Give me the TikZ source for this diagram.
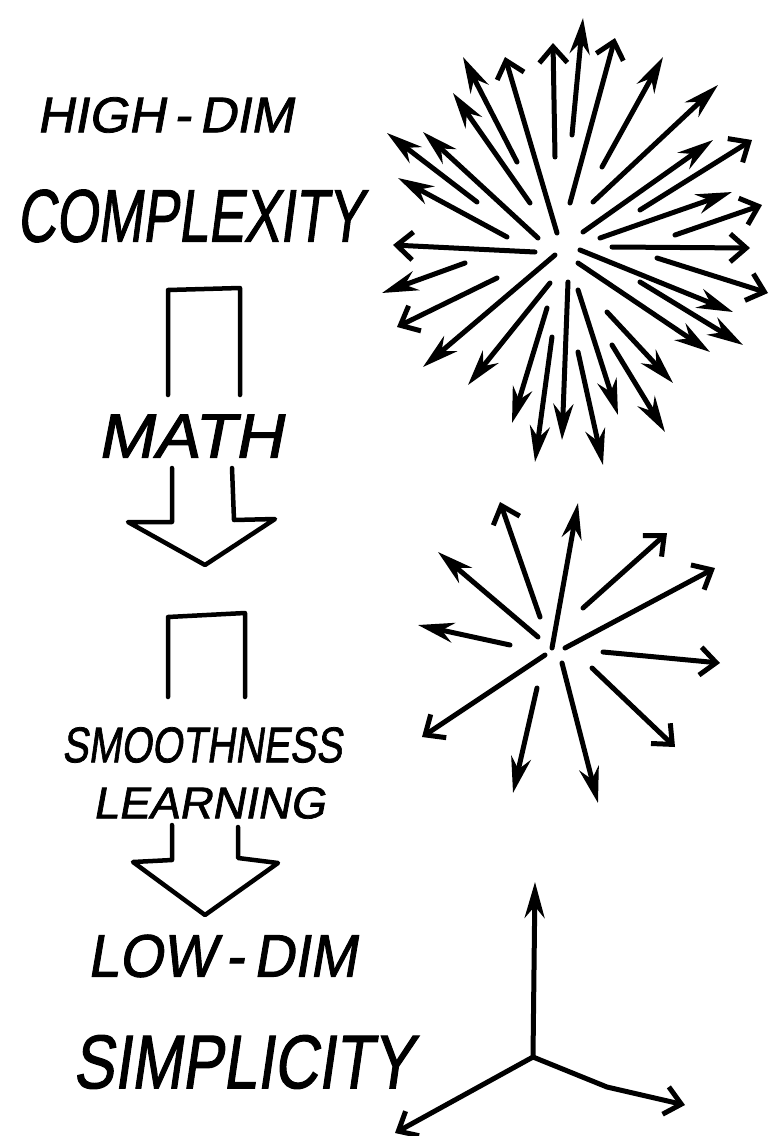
\documentclass[tikz,border=0pt]{standalone}
\usepackage{fontspec}
\usepackage{graphicx}
\usepackage{tikz}
\usetikzlibrary{arrows.meta}
\newfontfamily\handfont[FakeBold=1.6,FakeSlant=0.18]{Liberation Sans}
% lettering squeezed to the size of the hand-written words
\newcommand{\letters}[3]{\resizebox{#1}{#2}{\handfont #3}}

\begin{document}
\begin{tikzpicture}[x=1pt,y=-1pt,
    word/.style={inner sep=0pt},
    blk/.style={line width=4.5pt,line join=round,line cap=round},
    vec/.style={line width=5pt,line cap=round},
    vecf/.style={vec,-{Stealth[length=36pt,width=20pt]}},
    veco/.style={vec,-{Straight Barb[length=16pt,width=28pt]}}]
  \useasboundingbox (0,0) rectangle (770,1136);
  % words down the left side
  \node[word] (hidim)  at (165,115)  {\letters{256pt}{35pt}{HIGH\,-\,DIM}};
  \node[word] (cplx)   at (190,216)  {\letters{346pt}{52pt}{COMPLEXITY}};
  \node[word] (math)   at (190,436)  {\letters{185pt}{43pt}{MATH}};
  \node[word] (smooth) at (202,745)  {\letters{280pt}{35pt}{SMOOTHNESS}};
  \node[word] (learn)  at (209,803)  {\letters{232pt}{31pt}{LEARNING}};
  \node[word] (lowdim) at (222,956)  {\letters{269pt}{42pt}{LOW\,-\,DIM}};
  \node[word] (simpl)  at (243,1062) {\letters{340pt}{53pt}{SIMPLICITY}};
  % block arrows, cut by the words
  \draw[blk] (168,395) -- (168,290) -- (240,288) -- (240,395);
  \draw[blk] (172,468) -- (172,522) -- (128,522) -- (205,565)
    -- (275,519) -- (234,520) -- (232,468);
  \draw[blk] (168,697) -- (168,617) -- (245,613) -- (245,697);
  \draw[blk] (172,825) -- (172,860) -- (133,862) -- (205,915)
    -- (278,863) -- (238,858) -- (238,827);
  % high-dim burst
  \foreach \xa/\ya/\xb/\yb in {
    507/237/398/178,477/202/387/133,538/238/423/132,530/203/453/93,
    517/162/463/57,572/135/583/18,602/167/663/57,593/202/718/85,
    583/232/713/140,600/238/732/192,580/250/733/312,640/282/743/345,
    578/263/710/352,607/312/673/383,612/345/665/432,578/290/618/415,
    578/352/603/465,568/282/562/440,552/337/535/462,547/308/512/423,
    550/283/468/385,555/255/423/367,465/263/382/293}{
      \draw[vecf] (\xa,\ya) -- (\xb,\yb);
  }
  \foreach \xa/\ya/\xb/\yb in {
    535/252/393/245,557/233/505/57,555/157/553/43,570/203/615/38,
    640/210/752/140,675/235/762/205,612/247/750/248,657/258/768/293,
    497/278/397/327}{
      \draw[veco] (\xa,\ya) -- (\xb,\yb);
  }
  % smoother burst
  \foreach \xa/\ya/\xb/\yb in {
    510/645/418/625,538/637/438/552,552/648/578/503,
    562/663/598/803,537/688/513/793}{
      \draw[vecf] (\xa,\ya) -- (\xb,\yb);
  }
  \foreach \xa/\ya/\xb/\yb in {
    540/617/500/502,583/608/667/533,565/648/715/568,603/652/720/663,
    592/668/675/747,545/655/422/737}{
      \draw[veco] (\xa,\ya) -- (\xb,\yb);
  }
  % low-dim axes
  \coordinate (axo) at (533,1057);
  \coordinate (axup) at (535,882);
  \coordinate (axbend) at (607,1087);
  \coordinate (axright) at (685,1105);
  \coordinate (axleft) at (395,1133);
  \draw[vecf] (axo) -- (axup);
  \draw[veco] (axo) -- (axbend) -- (axright);
  \draw[veco] (axo) -- (axleft);
\end{tikzpicture}
\end{document}
